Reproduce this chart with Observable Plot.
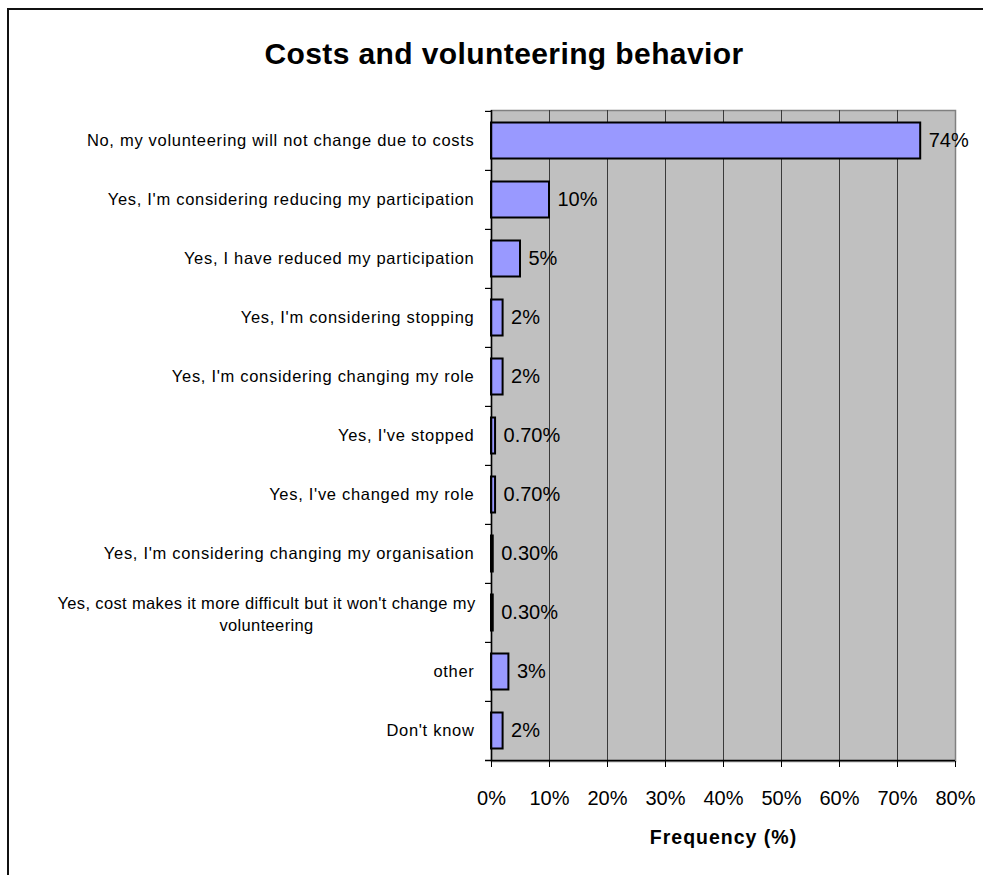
<!DOCTYPE html>
<html>
<head>
<meta charset="utf-8">
<script src="https://cdn.jsdelivr.net/npm/d3@7"></script>
<script src="https://cdn.jsdelivr.net/npm/@observablehq/plot@0.6"></script>
<style>
  html, body { margin: 0; padding: 0; background: #fff; }
  #wrap { position: relative; width: 983px; height: 875px; overflow: hidden; font-family: "Liberation Sans", Arial, sans-serif; }
  #border { position: absolute; left: 7px; top: 8px; width: 1000px; height: 900px; border-top: 2px solid #111; border-left: 2px solid #111; box-sizing: border-box; }
  #title { position: absolute; left: 0; width: 1008px; top: 37px; text-align: center; font-weight: bold; font-size: 30px; letter-spacing: 0.4px; color: #000; }
  #chart { position: absolute; left: 0; top: 0; }
  #chart svg { overflow: visible; }
  #chart g[aria-label="y-axis tick label"] text { letter-spacing: 0.7px; }
  #chart g.ylong text { letter-spacing: 0.35px; }
  #chart g.xlab text { letter-spacing: 1px; }
</style>
</head>
<body>
<div id="wrap">
  <div id="border"></div>
  <div id="title">Costs and volunteering behavior</div>
  <div id="chart"></div>
</div>
<script>
const categories = [
  "No, my volunteering will not change due to costs",
  "Yes, I'm considering reducing my participation",
  "Yes, I have reduced my participation",
  "Yes, I'm considering stopping",
  "Yes, I'm considering changing my role",
  "Yes, I've stopped",
  "Yes, I've changed my role",
  "Yes, I'm considering changing my organisation",
  "Yes, cost makes it more difficult but it won't change my volunteering",
  "other",
  "Don't know"
];
const values = [74, 10, 5, 2, 2, 0.7, 0.7, 0.3, 0.3, 3, 2];
const valueLabels = ["74%", "10%", "5%", "2%", "2%", "0.70%", "0.70%", "0.30%", "0.30%", "3%", "2%"];
const xTicks = [0, 10, 20, 30, 40, 50, 60, 70, 80];
const gridTicks = [10, 20, 30, 40, 50, 60, 70];
const xLabel = "Frequency (%)";
const longCategory = categories[8];
const longCategoryText = "Yes, cost makes it more difficult but it won't change my\nvolunteering";

const data = categories.map((c, i) => ({category: c, value: values[i], label: valueLabels[i]}));

const W = 983, H = 875, mt = 110, mb = 114, ml = 491, mr = 28;
const step = (H - mt - mb) / categories.length;
const tickLen = 6 / ((W - ml - mr) / 80);

const chart = Plot.plot({
  width: W,
  height: H,
  marginTop: mt,
  marginBottom: mb,
  marginLeft: ml,
  marginRight: mr,
  style: {fontFamily: '"Liberation Sans", Arial, sans-serif', color: "#000", background: "transparent"},
  x: {domain: [0, 80]},
  y: {domain: categories, padding: 0},
  marks: [
    Plot.frame({fill: "#C0C0C0", stroke: "#808080", strokeWidth: 1.5}),
    Plot.ruleX(gridTicks, {stroke: "#3a3a3a", strokeWidth: 1}),
    Plot.barX(data, {x: "value", y: "category", fill: "#9999FF", stroke: "#000", strokeWidth: 2, insetTop: 11.5, insetBottom: 11.5}),
    Plot.ruleX([0], {stroke: "#000", strokeWidth: 1.5}),
    Plot.ruleY(categories, {y: d => d, x1: -tickLen, x2: 0, dy: -step / 2, stroke: "#000", strokeWidth: 1.2}),
    Plot.ruleY([categories[categories.length - 1]], {y: d => d, x1: -tickLen, x2: 80, dy: step / 2, stroke: "#000", strokeWidth: 1.5}),
    Plot.axisX({ticks: xTicks, tickSize: 6, tickPadding: 23, tickFormat: d => d + "%", fontSize: 20, label: null, stroke: "#000"}),
    Plot.axisY({tickSize: 0, tickPadding: 17, fontSize: 16.5, label: null, tickFormat: d => d === longCategory ? "" : d}),
    Plot.text([longCategory], {y: d => d, x: 0, text: () => longCategoryText, textAnchor: "middle", lineAnchor: "middle", lineHeight: 1.35, dx: -225, fontSize: 16.5, className: "ylong"}),
    Plot.text(data, {x: "value", y: "category", text: "label", dx: 8, textAnchor: "start", fontSize: 20, fill: "#000"}),
    Plot.text([xLabel], {frameAnchor: "bottom", dy: 76, lineAnchor: "middle", fontWeight: "bold", fontSize: 19.5, fill: "#000", className: "xlab"})
  ]
});
document.getElementById("chart").appendChild(chart);
</script>
</body>
</html>
